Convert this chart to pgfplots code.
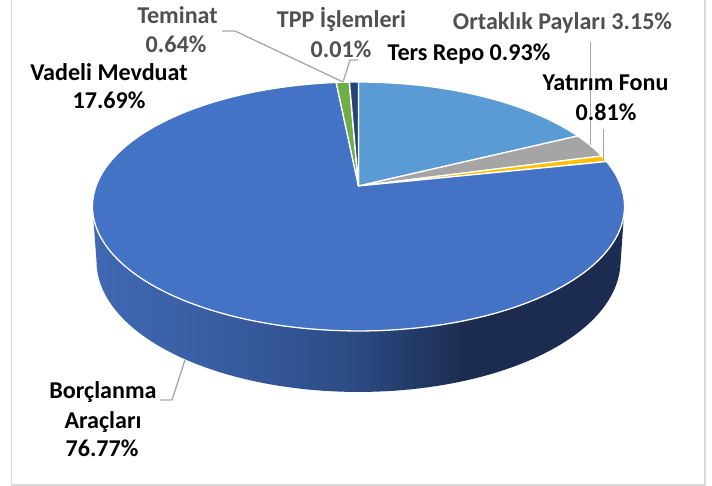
\documentclass[border=0pt]{standalone}
\usepackage{fontspec}
\setmainfont{Carlito}
\usepackage{pgfplots}
\pgfplotsset{compat=1.18}

\definecolor{cLB}{HTML}{5B9BD5}
\definecolor{cGR}{HTML}{A5A5A5}
\definecolor{cGO}{HTML}{FFC000}
\definecolor{cBL}{HTML}{4472C4}
\definecolor{cGN}{HTML}{70AD47}
\definecolor{cDK}{HTML}{1F3864}
\definecolor{cNV}{HTML}{264478}
\definecolor{sA}{HTML}{4069B3}
\definecolor{sB}{HTML}{36599C}
\definecolor{sC}{HTML}{2B4A82}
\definecolor{sD}{HTML}{1C2C50}
\definecolor{lead}{HTML}{A6A6A6}
\definecolor{gtxt}{HTML}{505050}
\definecolor{frame}{HTML}{D9D9D9}

\pgfdeclarehorizontalshading{sideshade}{100bp}{color(0bp)=(sA); color(25bp)=(sA); color(40bp)=(sB); color(50bp)=(sC); color(60bp)=(sD); color(100bp)=(sD)}

% data (percent), clockwise from 12 o'clock
\def\vVad{17.69}
\def\vOrt{3.15}
\def\vYat{0.81}
\def\vBor{76.77}
\def\vTer{0.93}
\def\vTPP{0.01}
\def\vTem{0.64}
\pgfmathsetmacro\aA{90}
\pgfmathsetmacro\aB{\aA-3.6*\vVad}
\pgfmathsetmacro\aC{\aB-3.6*\vOrt}
\pgfmathsetmacro\aD{\aC-3.6*\vYat}
\pgfmathsetmacro\aE{\aD-3.6*\vBor}
\pgfmathsetmacro\aF{\aE-3.6*\vTer}
\pgfmathsetmacro\aG{\aF-3.6*\vTPP}
\pgfmathsetmacro\aH{\aG-3.6*\vTem}

\tikzset{declare function={
  PX(\a)=358.5+262.4*cos(\a)/(1+0.1646*sin(\a));
  PY(\a)=186-121.1*sin(\a)/(1+0.1646*sin(\a));
  SA(\t)=ifthenelse(\t<1.005,-170.5+161*\t,-9.5-161*(\t-1));
  SX(\t)=ifthenelse(\t<1.005,PX(SA(\t)),358.5+0.985*262.4*cos(SA(\t))/(1+0.1646*sin(SA(\t))));
  SY(\t)=ifthenelse(\t<1.005,PY(SA(\t)),PY(SA(\t))+53-8*sin(SA(\t)));
}}

\newcommand\lab{\fontsize{24.2}{29}\selectfont\bfseries}

\begin{document}
\begin{tikzpicture}
\begin{axis}[width=712bp, height=486bp, scale only axis,
  xmin=0, xmax=712, ymin=0, ymax=486, y dir=reverse,
  hide axis, clip=false]

% frame
\draw[frame, line width=1.5bp] (axis cs:11.7,0) -- (axis cs:11.7,485) -- (axis cs:705,485) -- (axis cs:705,0);

% side of the pie
\addplot[draw=none, shading=sideshade, domain=0:2, samples=201] ({SX(x)},{SY(x)}) -- cycle;

% top faces
\addplot[fill=cLB, draw=white, line width=1.3bp, line join=round, domain=\aB:\aA, samples=60] ({PX(x)},{PY(x)}) -- (axis cs:358.5,186) -- cycle;
\addplot[fill=cGR, draw=white, line width=1.3bp, line join=round, domain=\aC:\aB, samples=20] ({PX(x)},{PY(x)}) -- (axis cs:358.5,186) -- cycle;
\addplot[fill=cGO, draw=white, line width=1.3bp, line join=round, domain=\aD:\aC, samples=10] ({PX(x)},{PY(x)}) -- (axis cs:358.5,186) -- cycle;
\addplot[fill=cBL, draw=white, line width=1.3bp, line join=round, domain=\aE:\aD, samples=240] ({PX(x)},{PY(x)}) -- (axis cs:358.5,186) -- cycle;
\addplot[fill=cGN, draw=white, line width=1.3bp, line join=round, domain=\aF:\aE, samples=10] ({PX(x)},{PY(x)}) -- (axis cs:358.5,186) -- cycle;
\addplot[fill=cDK, draw=white, line width=1.3bp, line join=round, domain=\aG:\aF, samples=3] ({PX(x)},{PY(x)}) -- (axis cs:358.5,186) -- cycle;
\addplot[fill=cNV, draw=white, line width=1.3bp, line join=round, domain=\aH:\aG, samples=10] ({PX(x)},{PY(x)}) -- (axis cs:358.5,186) -- cycle;

% leader lines
\draw[lead, line width=1.3bp] (axis cs:222,31) -- (axis cs:235,31) -- (axis cs:343,82);
\draw[lead, line width=1.3bp] (axis cs:358,60) -- (axis cs:350,60) -- (axis cs:343,82);
\draw[lead, line width=1.3bp] (axis cs:590.7,42) -- (axis cs:590.7,145);
\draw[lead, line width=1.3bp] (axis cs:603.3,129) -- (axis cs:603.3,160);
\draw[lead, line width=1.3bp] (axis cs:160,400) -- (axis cs:172,400) -- (axis cs:185,360);

% labels
\node[anchor=base, font=\lab, text=black] at (axis cs:109,81) {Vadeli Mevduat};
\node[anchor=base, font=\lab, text=black] at (axis cs:109,108.5) {17.69\%};
\node[anchor=base, font=\lab, text=gtxt] at (axis cs:177.5,24) {Teminat};
\node[anchor=base, font=\lab, text=gtxt] at (axis cs:176,53) {0.64\%};
\node[anchor=base, font=\lab, text=gtxt] at (axis cs:341.5,28) {TPP İşlemleri};
\node[anchor=base, font=\lab, text=gtxt] at (axis cs:341,57.5) {0.01\%};
\node[anchor=base, font=\lab, text=black] at (axis cs:469,61) {Ters Repo 0.93\%};
\node[anchor=base, font=\lab, text=gtxt] at (axis cs:562.5,30) {Ortaklık Payları 3.15\%};
\node[anchor=base, font=\lab, text=black] at (axis cs:605.5,91) {Yatırım Fonu};
\node[anchor=base, font=\lab, text=black] at (axis cs:606,120) {0.81\%};
\node[anchor=base, font=\lab, text=black] at (axis cs:103,398.5) {Borçlanma};
\node[anchor=base, font=\lab, text=black] at (axis cs:103,428) {Araçları};
\node[anchor=base, font=\lab, text=black] at (axis cs:102,456.5) {76.77\%};
\end{axis}
\pgfresetboundingbox
\useasboundingbox (current axis.south west) rectangle (current axis.north east);
\end{tikzpicture}
\end{document}
